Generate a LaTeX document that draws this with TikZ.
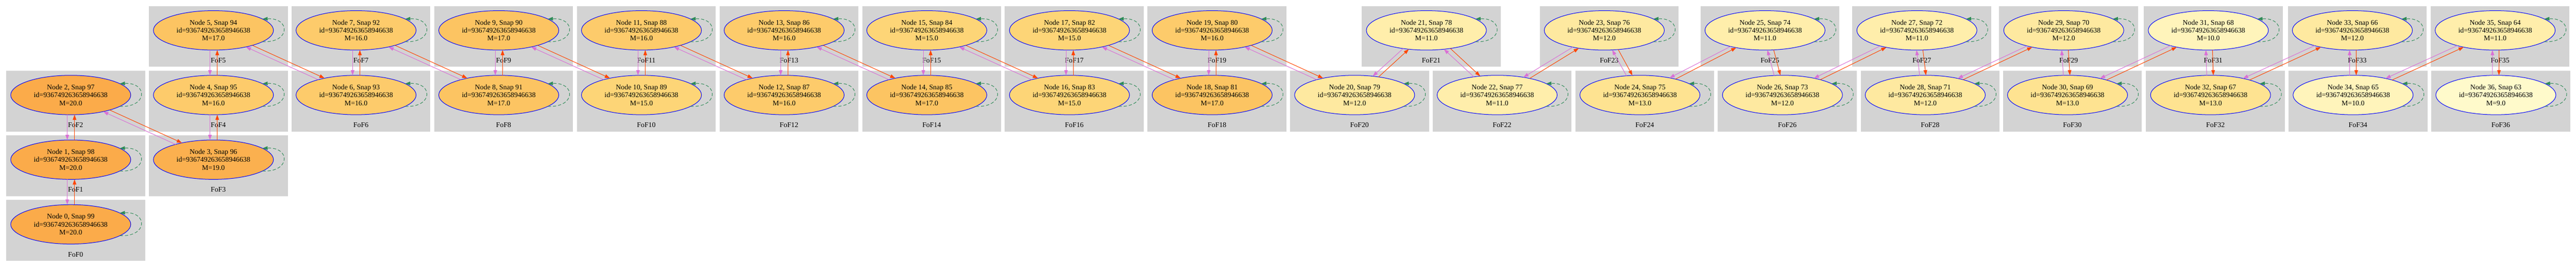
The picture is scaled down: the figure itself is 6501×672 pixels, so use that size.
\documentclass[tikz,border=0pt]{standalone}
\usepackage{fontspec}
\setmainfont{Liberation Serif}
\usetikzlibrary{shapes.geometric,arrows.meta,calc}
\definecolor{fofgrey}{HTML}{D3D3D3}
\definecolor{edgered}{HTML}{FF4500}
\definecolor{edgeviolet}{HTML}{DA70D6}
\definecolor{loopgreen}{HTML}{2E8B57}
\definecolor{haloblue}{HTML}{0000FF}
\definecolor{m20}{HTML}{FBAB4A}
\definecolor{m19}{HTML}{FBB04F}
\definecolor{m17}{HTML}{FCC462}
\definecolor{m16}{HTML}{FDCB6B}
\definecolor{m15}{HTML}{FDD577}
\definecolor{m13}{HTML}{FEE391}
\definecolor{m12}{HTML}{FEE9A0}
\definecolor{m11}{HTML}{FFEEAB}
\definecolor{m10}{HTML}{FFF4BB}
\definecolor{m9}{HTML}{FFFACB}
\tikzset{
  fofbox/.style={fill=fofgrey, draw=none, inner sep=0pt, outer sep=0pt,
    minimum width=350.6pt, minimum height=152.8pt, anchor=north west},
  foflabel/.style={font=\fontsize{18}{20}\selectfont, inner sep=0pt, anchor=center},
  halo/.style={ellipse, draw=haloblue, line width=1.3pt, inner sep=0pt, outer sep=0pt,
    minimum width=303pt, minimum height=99.3pt, align=center,
    font=\fontsize{18}{20}\selectfont},
  rededge/.style={draw=edgered, line width=1.3pt, -{Triangle[length=13pt,width=9pt]}},
  violetedge/.style={draw=edgeviolet, line width=1.3pt, -{Triangle[length=13pt,width=9pt]}},
  selfloop/.style={draw=loopgreen, line width=1.3pt, dash pattern=on 8pt off 5pt,
    -{Triangle[length=13pt,width=9pt]}},
}
% one FoF cluster: #1 index, #2 box left, #3 row, #4 snap, #5 mass, #6 fill colour
\newcommand\fofcluster[6]{%
  \edef\myrowtop{\fpeval{15.4+162.8*(#3)}}%
  \expandafter\xdef\csname mycx#1\endcsname{\fpeval{(#2)+163}}%
  \expandafter\xdef\csname mycy#1\endcsname{\fpeval{\myrowtop+61}}%
  \edef\mylx{\fpeval{(#2)+175.3}}%
  \edef\myly{\fpeval{\myrowtop+136.5}}%
  \edef\mynx{\csname mycx#1\endcsname}%
  \edef\myny{\csname mycy#1\endcsname}%
  \node[fofbox] (box#1) at (#2,\myrowtop) {};
  \node[foflabel] (lab#1) at (\mylx,\myly) {FoF#1};
  \node[halo, fill=#6] (n#1) at (\mynx,\myny) {Node #1, Snap #4\\id=936749263658946638\\M=#5};
  \draw[selfloop] (n#1.-13) .. controls ($(n#1.-13)+(71,3.5)$) and ($(n#1.13)+(71,-3.5)$) .. (n#1.13);
}
% border angles of a line shifted sideways (#1 = +1 east, -1 west)
\newcommand\myedgeangles[1]{%
  \edef\myox{\fpeval{(#1)*(\mysep)/2*(\myuy)}}%
  \edef\myoy{\fpeval{-(#1)*(\mysep)/2*(\myux)}}%
  \edef\myqa{\fpeval{((\myux)/151.5)^2+((\myuy)/49.65)^2}}%
  \edef\myqb{\fpeval{2*((\myox)*(\myux)/151.5^2+(\myoy)*(\myuy)/49.65^2)}}%
  \edef\myqc{\fpeval{((\myox)/151.5)^2+((\myoy)/49.65)^2-1}}%
  \edef\myqd{\fpeval{sqrt((\myqb)^2-4*(\myqa)*(\myqc))}}%
  \edef\mytU{\fpeval{(-(\myqb)+(\myqd))/(2*(\myqa))}}%
  \edef\mytL{\fpeval{((\myqb)+(\myqd))/(2*(\myqa))}}%
  \edef\myangU{\fpeval{round(atand(-((\myoy)+(\mytU)*(\myuy)),(\myox)+(\mytU)*(\myux)),3)}}%
  \edef\myangL{\fpeval{round(atand(-((\myoy)-(\mytL)*(\myuy)),(\myox)-(\mytL)*(\myux)),3)}}%
}
% red edge #1 -> #2 on the east side, violet edge #2 -> #1 on the west side
\newcommand\pairedge[2]{%
  \edef\myyi{\csname mycy#1\endcsname}\edef\myyj{\csname mycy#2\endcsname}%
  \def\myA{#1}%
  \ifdim\myyi pt<\myyj pt \def\myUi{#1}\def\myLi{#2}\else\def\myUi{#2}\def\myLi{#1}\fi
  \edef\myxU{\csname mycx\myUi\endcsname}\edef\myyU{\csname mycy\myUi\endcsname}%
  \edef\myxL{\csname mycx\myLi\endcsname}\edef\myyL{\csname mycy\myLi\endcsname}%
  \edef\myddx{\fpeval{(\myxL)-(\myxU)}}\edef\myddy{\fpeval{(\myyL)-(\myyU)}}%
  \edef\mydlen{\fpeval{sqrt((\myddx)^2+(\myddy)^2)}}%
  \edef\myux{\fpeval{(\myddx)/(\mydlen)}}\edef\myuy{\fpeval{(\myddy)/(\mydlen)}}%
  \edef\mysep{\fpeval{abs(\myddx)<0.5 ? 18 : 6.7+0.11*atand(\myddy,abs(\myddx))}}%
  \myedgeangles{1}%
  \ifx\myUi\myA
    \draw[rededge] (n#1.\myangU) -- (n#2.\myangL);
  \else
    \draw[rededge] (n#1.\myangL) -- (n#2.\myangU);
  \fi
  \myedgeangles{-1}%
  \ifx\myUi\myA
    \draw[violetedge] (n#2.\myangL) -- (n#1.\myangU);
  \else
    \draw[violetedge] (n#2.\myangU) -- (n#1.\myangL);
  \fi
}
\begin{document}
\begin{tikzpicture}[x=1pt,y=-1pt]
\fill[white] (0,0) rectangle (6501,672);
\useasboundingbox (0,0) rectangle (6501,672);
\fofcluster{0}{15.5}{3}{99}{20.0}{m20}
\fofcluster{1}{15.5}{2}{98}{20.0}{m20}
\fofcluster{2}{15.5}{1}{97}{20.0}{m20}
\fofcluster{3}{375.6}{2}{96}{19.0}{m19}
\fofcluster{4}{375.6}{1}{95}{16.0}{m16}
\fofcluster{5}{375.6}{0}{94}{17.0}{m17}
\fofcluster{6}{735.6}{1}{93}{16.0}{m16}
\fofcluster{7}{735.6}{0}{92}{16.0}{m16}
\fofcluster{8}{1095.7}{1}{91}{17.0}{m17}
\fofcluster{9}{1095.7}{0}{90}{17.0}{m17}
\fofcluster{10}{1455.8}{1}{89}{15.0}{m15}
\fofcluster{11}{1455.8}{0}{88}{16.0}{m16}
\fofcluster{12}{1815.9}{1}{87}{16.0}{m16}
\fofcluster{13}{1815.9}{0}{86}{16.0}{m16}
\fofcluster{14}{2175.9}{1}{85}{17.0}{m17}
\fofcluster{15}{2175.9}{0}{84}{15.0}{m15}
\fofcluster{16}{2536.0}{1}{83}{15.0}{m15}
\fofcluster{17}{2536.0}{0}{82}{15.0}{m15}
\fofcluster{18}{2896.1}{1}{81}{17.0}{m17}
\fofcluster{19}{2896.1}{0}{80}{16.0}{m16}
\fofcluster{20}{3255.6}{1}{79}{12.0}{m12}
\fofcluster{21}{3436.7}{0}{78}{11.0}{m11}
\fofcluster{22}{3615.3}{1}{77}{11.0}{m11}
\fofcluster{23}{3885.7}{0}{76}{12.0}{m12}
\fofcluster{24}{3975.6}{1}{75}{13.0}{m13}
\fofcluster{25}{4291.3}{0}{74}{11.0}{m11}
\fofcluster{26}{4335.3}{1}{73}{12.0}{m12}
\fofcluster{27}{4674.6}{0}{72}{11.0}{m11}
\fofcluster{28}{4695.7}{1}{71}{12.0}{m12}
\fofcluster{29}{5045.2}{0}{70}{12.0}{m12}
\fofcluster{30}{5054.7}{1}{69}{13.0}{m13}
\fofcluster{31}{5410.0}{0}{68}{10.0}{m10}
\fofcluster{32}{5415.7}{1}{67}{13.0}{m13}
\fofcluster{33}{5773.6}{0}{66}{12.0}{m12}
\fofcluster{34}{5775.4}{1}{65}{10.0}{m10}
\fofcluster{35}{6134.0}{0}{64}{11.0}{m11}
\fofcluster{36}{6135.7}{1}{63}{9.0}{m9}
\foreach \i in {0,...,35}{%
  \pgfmathtruncatemacro\j{\i+1}%
  \pairedge{\i}{\j}%
}
\end{tikzpicture}
\end{document}
